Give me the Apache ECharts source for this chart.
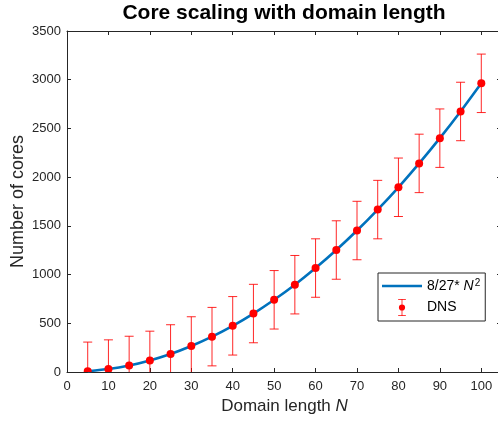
<!DOCTYPE html>
<html>
<head>
<meta charset="utf-8">
<script src="https://cdn.jsdelivr.net/npm/echarts@6/dist/echarts.min.js"></script>
<style>
html,body{margin:0;padding:0;background:#fff;}
#chart{width:498px;height:422px;}
</style>
</head>
<body>
<div id="chart"></div>
<script>
// Domain length N
var domainLengths = [5, 10, 15, 20, 25, 30, 35, 40, 45, 50, 55, 60, 65, 70, 75, 80, 85, 90, 95, 100];
// 8/27*N^2 curve values
var fitValues = [7, 30, 67, 119, 185, 267, 363, 474, 600, 741, 896, 1067, 1252, 1452, 1667, 1896, 2141, 2400, 2674, 2963];
// DNS measured core counts
var dnsValues = [7, 30, 67, 119, 185, 267, 363, 474, 600, 741, 896, 1067, 1252, 1452, 1667, 1896, 2141, 2400, 2674, 2963];
// DNS error bar half-widths
var dnsErrors = [300, 300, 300, 300, 300, 300, 300, 300, 300, 300, 300, 300, 300, 300, 300, 300, 300, 300, 300, 300];
var xTicks = [0, 10, 20, 30, 40, 50, 60, 70, 80, 90, 100];
var yTicks = [0, 500, 1000, 1500, 2000, 2500, 3000, 3500];

var fitData = domainLengths.map(function (n, i) { return [n, fitValues[i]]; });
var dnsData = domainLengths.map(function (n, i) { return [n, dnsValues[i], dnsValues[i] - dnsErrors[i], dnsValues[i] + dnsErrors[i]]; });

var axisColor = '#262626';
var fontFam = '"Liberation Sans", Arial, Helvetica, sans-serif';

var chart = echarts.init(document.getElementById('chart'), null, {renderer: 'canvas'});
var dnsIcon = 'path://M0 0 L10 0 L10 1 L5.5 1 L5.5 7 L4.5 7 L4.5 1 L0 1 Z M4.5 15 L5.5 15 L5.5 21 L10 21 L10 22 L0 22 L0 21 L4.5 21 Z M1 11 A4 4 0 1 0 9 11 A4 4 0 1 0 1 11 Z';
var lineIcon = 'path://M0 0 L40 0 L40 2.6 L0 2.6 Z';

var option = {
  backgroundColor: '#fff',
  animation: false,
  textStyle: {fontFamily: fontFam},
  title: {
    text: 'Core scaling with domain length',
    left: 284,
    textAlign: 'center',
    top: 3,
    padding: 0,
    textStyle: {fontSize: 21, fontWeight: 'bold', color: '#000', fontFamily: fontFam}
  },
  grid: {left: 67, top: 31, width: 435, height: 341, containLabel: false, outerBoundsMode: 'none'},
  legend: {
    orient: 'vertical',
    left: 378,
    top: 273,
    padding: [5, 5, 5, 4],
    itemGap: 6,
    itemWidth: 40,
    itemHeight: 17,
    borderColor: axisColor,
    borderWidth: 1,
    backgroundColor: '#fff',
    data: [
      {name: 'fit', icon: lineIcon},
      {name: 'DNS', icon: dnsIcon}
    ],
    formatter: function (name) {
      return name === 'fit' ? '8/27* {i|N}{s|2}' : 'DNS';
    },
    textStyle: {
      fontSize: 14, color: '#000', fontFamily: fontFam,
      rich: {
        i: {fontSize: 14, fontStyle: 'italic', color: '#000', fontFamily: fontFam},
        s: {fontSize: 10, color: '#000', fontFamily: fontFam, verticalAlign: 'top', padding: [0, 0, 6, 1]}
      }
    }
  },
  xAxis: [{
    type: 'value', min: 0, max: 105, interval: 10,
    name: '{t|Domain length }{i|N}', nameLocation: 'middle', nameGap: 26, nameMoveOverlap: false,
    nameTextStyle: {
      fontSize: 17, color: axisColor, fontFamily: fontFam,
      rich: {
        t: {fontSize: 17, color: axisColor, fontFamily: fontFam},
        i: {fontSize: 17, color: axisColor, fontStyle: 'italic', fontFamily: fontFam}
      }
    },
    axisLine: {show: true, lineStyle: {color: axisColor, width: 1}},
    axisTick: {show: true, inside: true, length: 4, lineStyle: {color: axisColor}},
    axisLabel: {show: true, margin: 8, fontSize: 13, color: axisColor, showMaxLabel: false,
      formatter: function (v) { return xTicks.indexOf(v) >= 0 ? String(v) : ''; }},
    splitLine: {show: false}
  }, {
    type: 'value', min: 0, max: 105, interval: 10, position: 'top',
    axisLine: {show: true, onZero: false, lineStyle: {color: axisColor, width: 1}},
    axisTick: {show: true, inside: true, length: 4, lineStyle: {color: axisColor}},
    axisLabel: {show: false},
    splitLine: {show: false}
  }],
  yAxis: [{
    type: 'value', min: 0, max: 3500, interval: 500,
    name: 'Number of cores', nameLocation: 'middle', nameGap: 40, nameMoveOverlap: false,
    nameTextStyle: {fontSize: 18, color: axisColor, fontFamily: fontFam},
    axisLine: {show: true, lineStyle: {color: axisColor, width: 1}},
    axisTick: {show: true, inside: true, length: 4, lineStyle: {color: axisColor}},
    axisLabel: {show: true, margin: 6, fontSize: 13, color: axisColor,
      formatter: function (v) { return yTicks.indexOf(v) >= 0 ? String(v) : ''; }},
    splitLine: {show: false}
  }, {
    type: 'value', min: 0, max: 3500, interval: 500, position: 'right',
    axisLine: {show: true, onZero: false, lineStyle: {color: axisColor, width: 1}},
    axisTick: {show: true, inside: true, length: 5, lineStyle: {color: axisColor}},
    axisLabel: {show: false},
    splitLine: {show: false}
  }],
  series: [{
    name: 'fit',
    type: 'line',
    data: fitData,
    showSymbol: false,
    symbol: 'none',
    smooth: 0.2,
    lineStyle: {color: '#0072BD', width: 2.6},
    itemStyle: {color: '#0072BD'},
    z: 2
  }, {
    name: 'DNS',
    type: 'custom',
    data: dnsData,
    clip: true,
    encode: {x: 0, y: [1, 2, 3]},
    itemStyle: {color: '#FF0000'},
    z: 3,
    renderItem: function (params, api) {
      var x = api.value(0);
      var c = api.coord([x, api.value(1)]);
      var lo = api.coord([x, api.value(2)]);
      var hi = api.coord([x, api.value(3)]);
      var hw = 4.5;
      var st = {stroke: '#FF0000', lineWidth: 1, opacity: 0.85};
      return {
        type: 'group',
        children: [
          {type: 'line', shape: {x1: c[0], y1: lo[1], x2: c[0], y2: hi[1]}, style: st},
          {type: 'line', shape: {x1: c[0] - hw, y1: hi[1], x2: c[0] + hw, y2: hi[1]}, style: st},
          {type: 'line', shape: {x1: c[0] - hw, y1: lo[1], x2: c[0] + hw, y2: lo[1]}, style: st},
          {type: 'circle', shape: {cx: c[0], cy: c[1], r: 4}, style: {fill: '#FF0000'}}
        ]
      };
    }
  }]
};
chart.setOption(option);
</script>
</body>
</html>
